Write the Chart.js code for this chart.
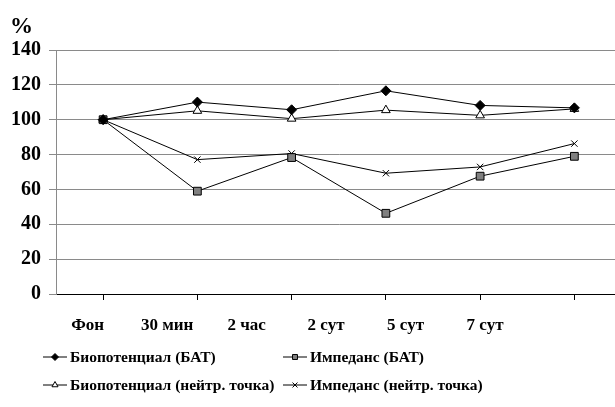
<!DOCTYPE html>
<html>
<head>
<meta charset="utf-8">
<script src="https://cdn.jsdelivr.net/npm/chart.js@4.4.1/dist/chart.umd.min.js"></script>
<style>
  html, body { margin: 0; padding: 0; background: #fff; overflow: hidden; }
  #wrap { width: 615px; height: 407px; overflow: hidden; }
</style>
</head>
<body>
<div id="wrap"><canvas id="myChart" width="628" height="407"></canvas></div>
<script>
// data
const categories = ['Фон', '30 мин', '2 час', '2 сут', '5 сут', '7 сут'];
const bioBAT = [100, 110.1, 105.7, 116.6, 108.2, 106.8];
const impBAT = [100, 59, 78.3, 46.3, 67.6, 79];
const bioNeutral = [100, 105.1, 100.6, 105.5, 102.5, 106.2];
const impNeutral = [100, 77.1, 80.6, 69.3, 72.9, 86.3];
const yTicks = [0, 20, 40, 60, 80, 100, 120, 140];

const serif = '"Liberation Serif", "Times New Roman", serif';

// legend drawn in two columns like the original
const legendPlugin = {
    id: 'colLegend',
    afterDraw(chart) {
        const ctx = chart.ctx;
        const cols = [43, 283];
        const rows = [357, 385];
        ctx.save();
        chart.data.datasets.forEach((ds, i) => {
            const x = cols[i % 2];
            const y = rows[Math.floor(i / 2)];
            ctx.strokeStyle = '#000';
            ctx.lineWidth = 1;
            ctx.beginPath();
            ctx.moveTo(x, y);
            ctx.lineTo(x + 24, y);
            ctx.stroke();
            ctx.fillStyle = ds.pointBackgroundColor;
            ctx.strokeStyle = ds.pointBorderColor;
            ctx.lineWidth = 1;
            Chart.helpers.drawPoint(ctx, {
                pointStyle: ds.pointStyle,
                radius: 3.5,
                rotation: 0,
                borderWidth: 1
            }, x + 12, y);
            ctx.fillStyle = '#000';
            ctx.font = 'bold 15.5px ' + serif;
            ctx.textBaseline = 'middle';
            ctx.textAlign = 'left';
            ctx.fillText(ds.label, x + 27, y + 1);
        });
        // "%" over the y axis
        ctx.font = 'bold 23px ' + serif;
        ctx.textBaseline = 'alphabetic';
        ctx.fillText('%', 10, 33);
        ctx.restore();
    }
};

var ctx = document.getElementById('myChart').getContext('2d');
var myChart = new Chart(ctx, {
    type: 'line',
    data: {
        labels: categories,
        datasets: [
            {
                label: 'Биопотенциал (БАТ)',
                data: bioBAT,
                borderColor: '#000',
                borderWidth: 1,
                pointStyle: 'rectRot',
                pointRadius: 5,
                pointBackgroundColor: '#000',
                pointBorderColor: '#000'
            },
            {
                label: 'Импеданс (БАТ)',
                data: impBAT,
                borderColor: '#000',
                borderWidth: 1,
                pointStyle: 'rect',
                pointRadius: 5.5,
                pointBackgroundColor: '#808080',
                pointBorderColor: '#000'
            },
            {
                label: 'Биопотенциал (нейтр. точка)',
                data: bioNeutral,
                borderColor: '#000',
                borderWidth: 1,
                pointStyle: 'triangle',
                pointRadius: 5,
                pointBackgroundColor: '#fff',
                pointBorderColor: '#000'
            },
            {
                label: 'Импеданс (нейтр. точка)',
                data: impNeutral,
                borderColor: '#000',
                borderWidth: 1,
                pointStyle: 'crossRot',
                pointRadius: 4.5,
                pointBackgroundColor: '#000',
                pointBorderColor: '#000'
            }
        ]
    },
    options: {
        responsive: false,
        animation: false,
        events: [],
        layout: { padding: { top: 50, left: 0, right: 0, bottom: 0 } },
        plugins: {
            legend: { display: false },
            tooltip: { enabled: false }
        },
        elements: { line: { tension: 0 } },
        scales: {
            x: {
                type: 'category',
                offset: true,
                weight: 0,
                grid: {
                    drawOnChartArea: false,
                    drawTicks: true,
                    tickLength: 6,
                    color: '#000'
                },
                border: { color: '#000', width: 1 },
                ticks: { display: false },
                afterFit(scale) { scale.height = 7; }
            },
            xl: {
                type: 'linear',
                position: 'bottom',
                weight: 1,
                min: -0.398,
                max: 6.717,
                grid: { display: false, drawTicks: false },
                border: { display: false },
                afterBuildTicks(scale) {
                    scale.ticks = categories.map((c, i) => ({ value: i }));
                },
                ticks: {
                    autoSkip: false,
                    maxRotation: 0,
                    padding: 14,
                    color: '#000',
                    font: { family: serif, size: 17, weight: 'bold' },
                    callback: (v) => categories[v]
                },
                afterFit(scale) { scale.height = 106; }
            },
            y: {
                min: 0,
                max: 140,
                afterBuildTicks(scale) {
                    scale.ticks = yTicks.map(v => ({ value: v }));
                },
                grid: {
                    color: '#8a8a8a',
                    tickLength: 7
                },
                border: { color: '#8a8a8a', width: 1 },
                ticks: {
                    padding: 8,
                    color: '#000',
                    font: { family: serif, size: 20, weight: 'bold' }
                },
                afterFit(scale) { scale.width = 56; }
            }
        }
    },
    plugins: [legendPlugin]
});
</script>
</body>
</html>
